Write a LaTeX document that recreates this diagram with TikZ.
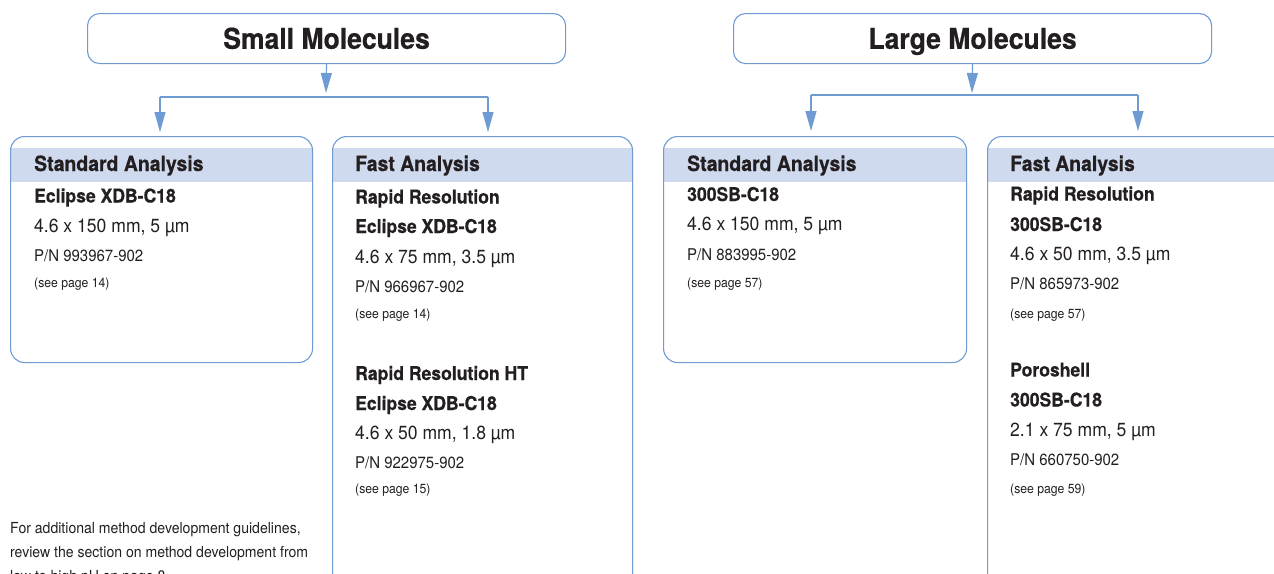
\documentclass[tikz,border=0pt]{standalone}
\usepackage{fontspec}
\setmainfont{TeX Gyre Heros}[FakeStretch=0.925, BoldFeatures={FakeBold=0.5}]
\usetikzlibrary{arrows.meta}
\definecolor{lineblue}{HTML}{6F9BD3}
\definecolor{bandblue}{HTML}{CFDAEE}
\definecolor{ink}{HTML}{231F20}
\tikzset{
  titlebox/.style={draw=lineblue, line width=1.1pt, rounded corners=12pt, fill=white, inner sep=0pt, anchor=north west, minimum width=478pt, minimum height=50pt, text height=20.5pt, text depth=0pt, text=ink, font=\bfseries\fontsize{28.7}{32}\selectfont},
  panel/.style={draw=lineblue, line width=1.1pt, rounded corners=14pt, inner sep=0pt, anchor=north west},
  band/.style={fill=bandblue, draw=none},
  conn/.style={draw=lineblue, line width=1.1pt},
  arr/.style={conn, -{Triangle[length=20pt,width=11pt]}},
  txt/.style={anchor=base west, inner sep=0pt, text=ink},
  hd/.style={txt, font=\bfseries\fontsize{21}{25}\selectfont},
  nm/.style={txt, font=\bfseries\fontsize{19}{23}\selectfont},
  dm/.style={txt, font=\fontsize{19}{23}\selectfont},
  pn/.style={txt, font=\fontsize{16.2}{19}\selectfont},
  pg/.style={txt, font=\fontsize{13.2}{16}\selectfont},
  ft/.style={txt, font=\fontsize{15.2}{24}\selectfont},
}
\begin{document}
\begin{tikzpicture}[x=1pt,y=-1pt]
\useasboundingbox (0,0) rectangle (1274,573);
% header bands
\fill[band] (10.5,148) rectangle (311.5,182);
\fill[band] (332.5,148) rectangle (631.5,182);
\fill[band] (663.5,148) rectangle (965.5,182);
\fill[band] (987.5,148) rectangle (1290,182);
% title boxes
\node[titlebox] (sm) at (87,13) {Small Molecules};
\node[titlebox] (lm) at (733,13) {Large Molecules};
% panels
\node[panel, minimum width=302pt, minimum height=226pt] (sa1) at (10,136) {};
\node[panel, minimum width=300pt, minimum height=470pt] (fa1) at (332,136) {};
\node[panel, minimum width=303pt, minimum height=226pt] (sa2) at (663,136) {};
\node[panel, minimum width=303pt, minimum height=470pt] (fa2) at (987,136) {};
% connectors small
\coordinate (sma) at (326,93);
\coordinate (sml) at (160,97);
\coordinate (smr) at (488,97);
\draw[arr] (sm.south) -- (sma);
\draw[conn] (sml) -- (smr);
\draw[arr, shorten >=4pt] (sml) -- (sml |- sa1.north);
\draw[arr, shorten >=4pt] (smr) -- (smr |- fa1.north);
% connectors large
\coordinate (lma) at (972,93);
\coordinate (lml) at (811,95);
\coordinate (lmr) at (1138,95);
\draw[arr] (lm.south) -- (lma);
\draw[conn] (lml) -- (lmr);
\draw[arr, shorten >=5pt] (lml) -- (lml |- sa2.north);
\draw[arr, shorten >=5pt] (lmr) -- (lmr |- fa2.north);
% panel 1
\node[hd] (h1) at (34,171) {Standard Analysis};
\node[nm] (a1) at (34,202.5) {Eclipse XDB-C18};
\node[dm] (a2) at (34,232) {4.6 x 150 mm, 5 µm};
\node[pn] (a3) at (34,261.5) {P/N 993967-902};
\node[pg] (a4) at (34,287) {(see page 14)};
% panel 2
\node[hd] (h2) at (355,171) {Fast Analysis};
\node[nm] (b1) at (355,203.5) {Rapid Resolution};
\node[nm] (b2) at (355,233) {Eclipse XDB-C18};
\node[dm] (b3) at (355,263) {4.6 x 75 mm, 3.5 µm};
\node[pn] (b4) at (355,292) {P/N 966967-902};
\node[pg] (b5) at (355,318.5) {(see page 14)};
\node[nm] (b6) at (355,380) {Rapid Resolution HT};
\node[nm] (b7) at (355,410) {Eclipse XDB-C18};
\node[dm] (b8) at (355,439) {4.6 x 50 mm, 1.8 µm};
\node[pn] (b9) at (355,468) {P/N 922975-902};
\node[pg] (b10) at (355,493.5) {(see page 15)};
% panel 3
\node[hd] (h3) at (687,171) {Standard Analysis};
\node[nm] (c1) at (687,201) {300SB-C18};
\node[dm] (c2) at (687,230) {4.6 x 150 mm, 5 µm};
\node[pn] (c3) at (687,260) {P/N 883995-902};
\node[pg] (c4) at (687,287) {(see page 57)};
% panel 4
\node[hd] (h4) at (1010,171) {Fast Analysis};
\node[nm] (d1) at (1010,200.5) {Rapid Resolution};
\node[nm] (d2) at (1010,231) {300SB-C18};
\node[dm] (d3) at (1010,260) {4.6 x 50 mm, 3.5 µm};
\node[pn] (d4) at (1010,289) {P/N 865973-902};
\node[pg] (d5) at (1010,318.5) {(see page 57)};
\node[nm] (d6) at (1010,376.5) {Poroshell};
\node[nm] (d7) at (1010,406.5) {300SB-C18};
\node[dm] (d8) at (1010,436) {2.1 x 75 mm, 5 µm};
\node[pn] (d9) at (1010,465) {P/N 660750-902};
\node[pg] (d10) at (1010,493) {(see page 59)};
% footnote
\node[ft] (f1) at (10,533) {For additional method development guidelines,};
\node[ft] (f2) at (10,557) {review the section on method development from};
\node[ft] (f3) at (10,581) {low to high pH on page 8};
\end{tikzpicture}
\end{document}
